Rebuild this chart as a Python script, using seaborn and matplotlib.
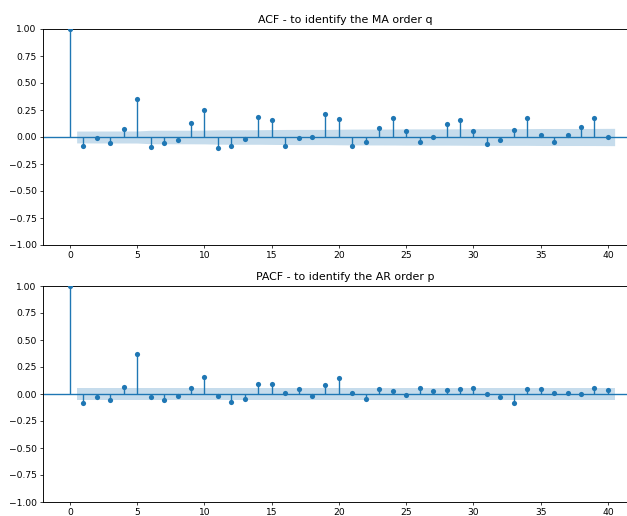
import numpy as np
import matplotlib
matplotlib.use("Agg")
import matplotlib.pyplot as plt
import seaborn as sns

lags = list(range(0, 41))
acf_values = [1.0, -0.087, -0.013, -0.06, 0.077, 0.355, -0.093, -0.053, -0.025, 0.126,
              0.247, -0.105, -0.08, -0.019, 0.185, 0.154, -0.087, -0.013, 0.003, 0.216,
              0.167, -0.087, -0.044, 0.083, 0.179, 0.056, -0.05, -0.003, 0.123, 0.16,
              0.052, -0.062, -0.025, 0.061, 0.172, 0.015, -0.046, 0.018, 0.089, 0.172,
              0.003]
pacf_values = [1.0, -0.086, -0.025, -0.058, 0.067, 0.37, -0.031, -0.056, -0.019, 0.053,
               0.16, -0.019, -0.074, -0.043, 0.095, 0.09, 0.009, 0.046, -0.019, 0.083,
               0.148, 0.012, -0.043, 0.046, 0.031, -0.009, 0.058, 0.031, 0.040, 0.046,
               0.053, 0.003, -0.025, -0.083, 0.046, 0.046, 0.012, 0.009, 0.0, 0.058,
               0.034]
nobs = 1270
titles = ["ACF - to identify the MA order q", "PACF - to identify the AR order p"]
xticks = [0, 5, 10, 15, 20, 25, 30, 35, 40]
yticks = [-1.0, -0.75, -0.5, -0.25, 0.0, 0.25, 0.5, 0.75, 1.0]

sns.set_style("ticks", {"text.color": "black", "xtick.color": "black",
                        "ytick.color": "black", "axes.edgecolor": "black",
                        "axes.labelcolor": "black"})
plt.rcParams['font.family'] = ['DejaVu Sans']
color = "#1f77b4"

W, H = 627, 516
DPI = 66
fig = plt.figure(figsize=(W / DPI, H / DPI), dpi=DPI)
px_per_lag = 13.45
x_left = -2.0
x_right = 43.0
ax_w = (x_right - x_left) * px_per_lag
positions = [(43, 29, 245), (43, 286, 502)]

def bartlett_halfwidth(vals, n):
    r = np.array(vals[1:])
    hw = []
    for k in range(1, len(vals)):
        s = 1 + 2 * np.sum(r[:k - 1] ** 2)
        hw.append(1.96 * np.sqrt(s / n))
    return np.array(hw)

for i, (vals, title) in enumerate(zip([acf_values, pacf_values], titles)):
    left, top, bottom = positions[i]
    ax = fig.add_axes([left / W, 1 - bottom / H, ax_w / W, (bottom - top) / H])
    if i == 0:
        hw = bartlett_halfwidth(vals, nobs)
    else:
        hw = np.full(len(vals) - 1, 1.96 / np.sqrt(nobs))
    bx = np.array(lags[1:], dtype=float)
    bx[0] -= 0.5
    bx[-1] += 0.5
    ax.fill_between(bx, -hw, hw, color=color, alpha=0.25, linewidth=0)
    ax.axhline(0, color=color, linewidth=1.5, zorder=1)
    ax.vlines(lags, 0, vals, color=color, linewidth=1.5, zorder=2)
    sns.scatterplot(x=lags, y=vals, ax=ax, s=32, color=color, linewidth=0, zorder=3)
    ax.set_xlim(x_left, x_right)
    ax.set_ylim(-1.0, 1.0)
    ax.set_xticks(xticks)
    ax.set_yticks(yticks)
    ax.set_yticklabels([f"{t:.2f}".replace("-", "\u2212") for t in yticks])
    ax.tick_params(labelsize=10, length=3.5, colors="black")
    ax.set_title(title, fontsize=12, color="black")
    ax.spines['right'].set_visible(False)
    for s in ['left', 'top', 'bottom']:
        ax.spines[s].set_color('black')
        ax.spines[s].set_linewidth(1.0)

fig.savefig("out.png", dpi=DPI)
